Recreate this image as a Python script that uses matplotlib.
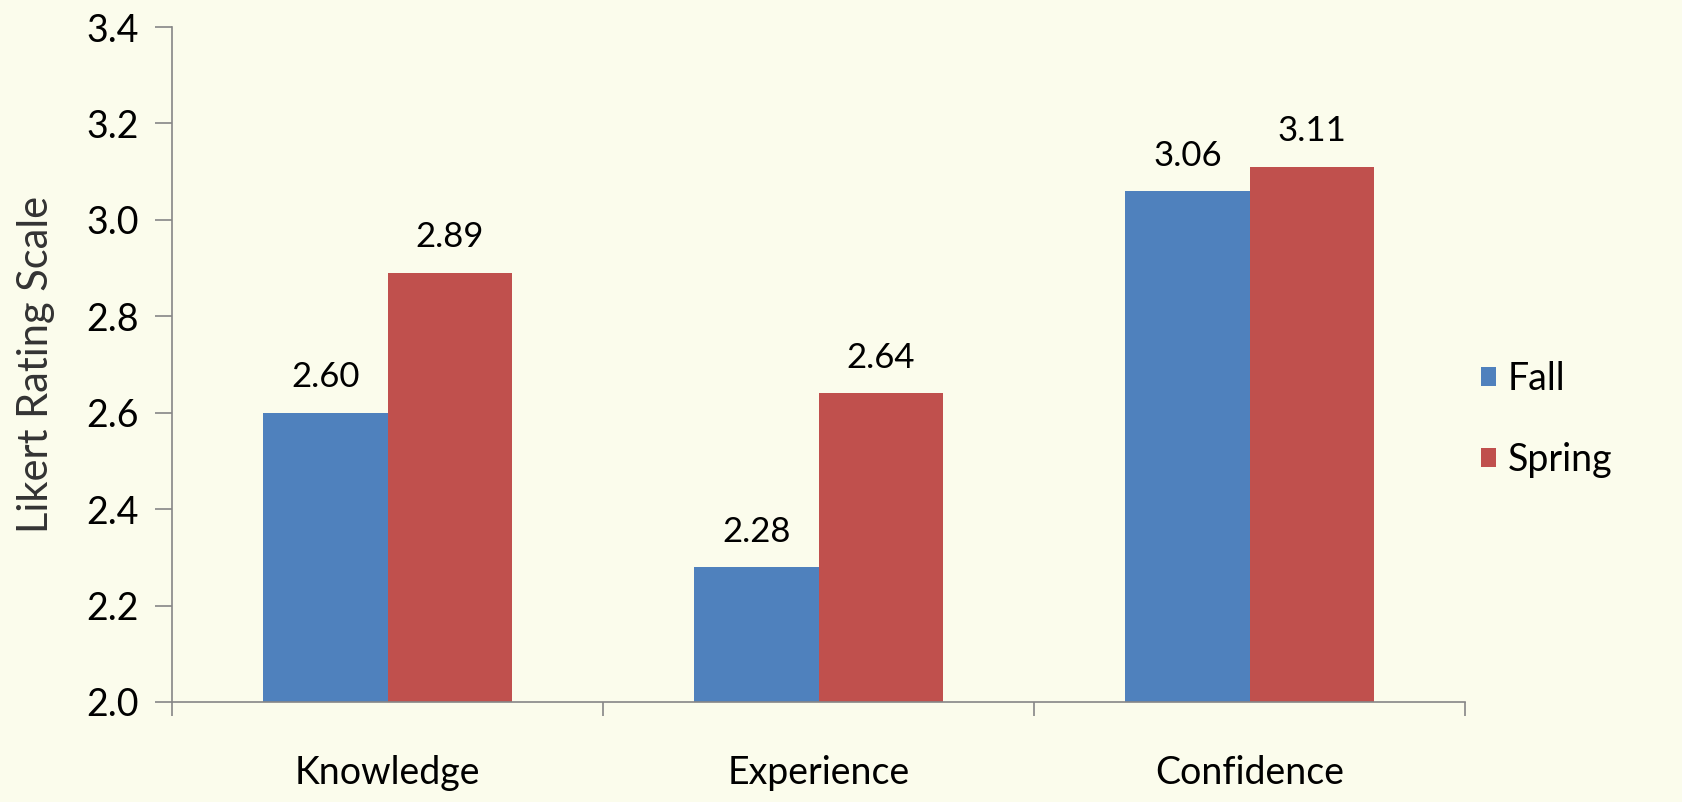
import numpy as np
import matplotlib
matplotlib.use('Agg')
import matplotlib.pyplot as plt

# Chart data
categories = ['Knowledge', 'Experience', 'Confidence']
fall = [2.60, 2.28, 3.06]
spring = [2.89, 2.64, 3.11]
series_names = ['Fall', 'Spring']
y_ticks = [2.0, 2.2, 2.4, 2.6, 2.8, 3.0, 3.2, 3.4]

plt.rcParams['font.family'] = ['Lato', 'DejaVu Sans']

bg = '#fbfcec'
axis_col = '#868686'
blue = '#4f81bd'
red = '#c0504d'

fig = plt.figure(figsize=(16.83, 8.02), dpi=100, facecolor=bg)
ax = fig.add_axes([0.1022, 0.1247, 0.7683, 0.8416], facecolor=bg)

x = np.arange(len(categories))
w = 0.288
b1 = ax.bar(x - w / 2, fall, w, color=blue, label=series_names[0])
b2 = ax.bar(x + w / 2, spring, w, color=red, label=series_names[1])

for bars, vals in ((b1, fall), (b2, spring)):
    for rect, v in zip(bars, vals):
        ax.annotate('%.2f' % v, (rect.get_x() + rect.get_width() / 2, v),
                    xytext=(0, 14), textcoords='offset points',
                    ha='center', va='bottom', fontsize=25, color='black')

ax.set_ylim(2.0, 3.4)
ax.set_yticks(y_ticks)
ax.set_yticklabels(['%.1f' % t for t in y_ticks], fontsize=27)
ax.set_xlim(-0.5, len(categories) - 0.5)

# category labels centered, ticks at boundaries
ax.set_xticks(x)
ax.set_xticklabels(categories, fontsize=27)
ax.tick_params(axis='x', length=0, pad=38)
ax.set_xticks(np.arange(len(categories) + 1) - 0.5, minor=True)
ax.tick_params(axis='x', which='minor', length=10, color=axis_col, width=1.2)
ax.tick_params(axis='y', length=12, color=axis_col, width=1.2, pad=12)

for s in ['top', 'right']:
    ax.spines[s].set_visible(False)
for s in ['left', 'bottom']:
    ax.spines[s].set_color(axis_col)
    ax.spines[s].set_linewidth(1.2)

ax.set_ylabel('Likert Rating Scale', fontsize=30, labelpad=22, color='#333333')

ax.legend(loc='center left', bbox_to_anchor=(1.001, 0.418), frameon=False,
          fontsize=27, handlelength=0.4, handleheight=0.4, borderaxespad=0,
          handletextpad=0.3, labelspacing=1.2)

fig.savefig('out.png', dpi=100, facecolor=bg)
